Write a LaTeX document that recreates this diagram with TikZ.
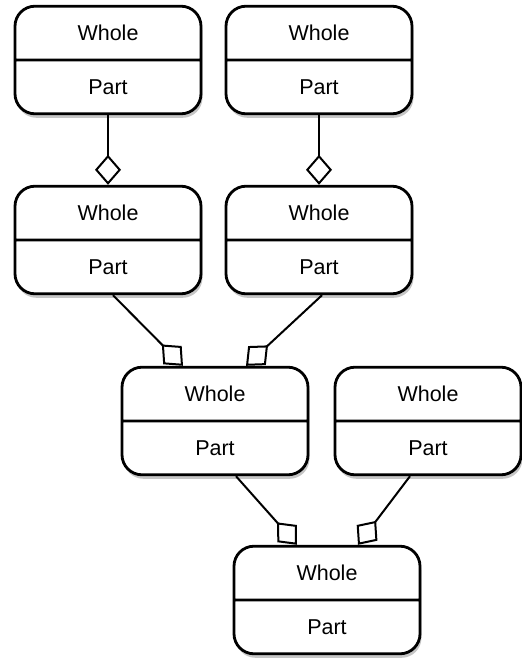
\documentclass[tikz,border=0pt]{standalone}
\usepackage{fontspec}
\setmainfont{Liberation Sans}
\usepackage{tikz}
\usetikzlibrary{shapes.multipart,shadows,arrows.meta,positioning}
\tikzstyle{aggbox} = [draw, fill=white, rectangle split, rectangle split parts=2, rounded corners=20pt, line width=2.8pt, minimum width=186pt, inner ysep=15pt, text centered, drop shadow={shadow xshift=1.5pt, shadow yshift=-4pt, opacity=0.45}, font=\fontsize{21.5}{26}\selectfont]
\tikzstyle{aggline} = [draw, line width=2pt, color=black, -{Diamond[open,length=30pt,width=26pt]}]
\newcommand{\partstrut}{\rule[-3pt]{0pt}{21pt}}
\newcommand{\aggbox}[3]{node (#1) [aggbox] {\partstrut #2\nodepart{two}\partstrut #3}}

\begin{document}
\begin{tikzpicture}[x=1pt,y=-1pt]
\useasboundingbox (0,0) rectangle (522,659);
\path (108,60) \aggbox{a1}{Whole}{Part};
\path (a1)+(211,0) \aggbox{a2}{Whole}{Part};
\path (a1)+(0,180) \aggbox{b1}{Whole}{Part};
\path (a2)+(0,180) \aggbox{b2}{Whole}{Part};
\path (b1)+(107,181) \aggbox{c1}{Whole}{Part};
\path (c1)+(213,0) \aggbox{c2}{Whole}{Part};
\path (c1)+(112,179) \aggbox{d1}{Whole}{Part};

\path [aggline] (a1.south) -- (b1.north);
\path [aggline] (a2.south) -- (b2.north);

\path [aggline] ([xshift=5pt]b1.south) -- ([xshift=-32pt]c1.north);
\path [aggline] ([xshift=3pt]b2.south) -- ([xshift=31pt]c1.north);

\path [aggline] ([xshift=21pt]c1.south) -- ([xshift=-30pt]d1.north);
\path [aggline] ([xshift=-18pt]c2.south) -- ([xshift=31pt]d1.north);
\end{tikzpicture}
\end{document}
